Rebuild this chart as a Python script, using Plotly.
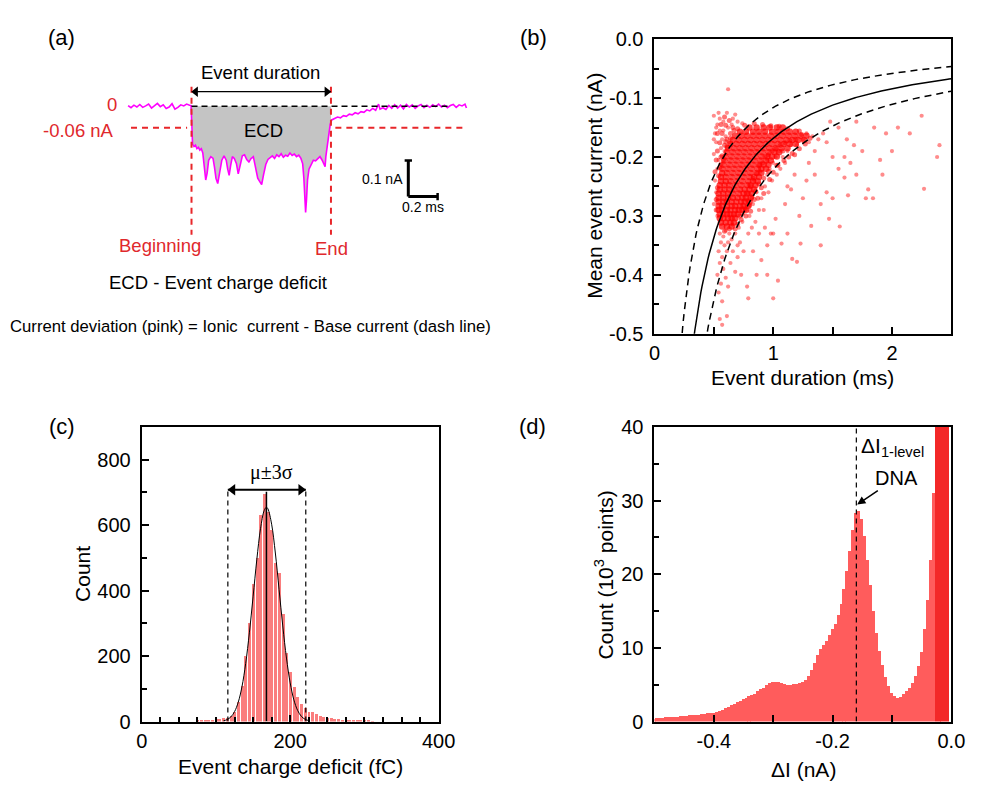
import plotly.graph_objects as go

W, H = 983, 786
FONT = "Liberation Sans, Arial, sans-serif"
RED_TXT = "#e0282c"


def px(x):
    return x / W


def py(y):
    return 1 - y / H


# ---------------- (a) single translocation event ----------------
trace_t = [
    0.00, 0.02, 0.04, 0.06, 0.08, 0.10, 0.12, 0.14, 0.16, 0.18, 0.20, 0.22,
    0.24, 0.26, 0.28, 0.30, 0.32, 0.34, 0.36, 0.38, 0.40, 0.42, 0.430,
    0.436, 0.440, 0.450, 0.460, 0.470, 0.480, 0.490, 0.500, 0.510, 0.520,
    0.530, 0.540, 0.550, 0.565, 0.580, 0.590, 0.600, 0.612, 0.625, 0.640,
    0.655, 0.670, 0.680, 0.690, 0.700, 0.712, 0.725, 0.740, 0.752, 0.765,
    0.780, 0.795, 0.810, 0.825, 0.840, 0.855, 0.870, 0.885, 0.900, 0.912,
    0.925, 0.940, 0.955, 0.970, 0.985, 1.000, 1.015, 1.030, 1.045, 1.060,
    1.075, 1.090, 1.105, 1.120, 1.135, 1.150, 1.165, 1.180, 1.192, 1.200,
    1.206, 1.212, 1.218, 1.225, 1.235, 1.250, 1.265, 1.280, 1.295, 1.310,
    1.325, 1.338, 1.345, 1.350, 1.360, 1.370, 1.380, 1.390,
    1.41, 1.43, 1.45, 1.47, 1.49, 1.51, 1.53, 1.55, 1.57, 1.59, 1.61, 1.63,
    1.65, 1.67, 1.69, 1.71, 1.72, 1.74, 1.76, 1.78, 1.80, 1.82, 1.84, 1.86,
    1.88, 1.90, 1.92, 1.94, 1.96, 1.98, 2.00, 2.02, 2.04, 2.06, 2.08, 2.10,
    2.12, 2.14, 2.16, 2.18, 2.20, 2.22, 2.24, 2.26, 2.28, 2.30, 2.31,
]
trace_i = [
    0.002, -0.004, 0.003, -0.002, 0.005, -0.003, 0.001, 0.006, -0.005, 0.002,
    0.008, -0.001, 0.004, -0.006, -0.002, 0.007, -0.008, -0.003, 0.004, 0.001,
    0.006, 0.003, 0.002,
    -0.060, -0.105, -0.112, -0.108, -0.118, -0.114, -0.122, -0.118, -0.130,
    -0.165, -0.205, -0.185, -0.150, -0.140, -0.145, -0.170, -0.200, -0.215,
    -0.180, -0.150, -0.138, -0.150, -0.175, -0.192, -0.165, -0.140, -0.145,
    -0.160, -0.188, -0.160, -0.138, -0.135, -0.148, -0.155, -0.145, -0.140,
    -0.170, -0.200, -0.210, -0.218, -0.190, -0.162, -0.148, -0.142, -0.138,
    -0.145, -0.135, -0.140, -0.132, -0.142, -0.136, -0.139, -0.130, -0.137,
    -0.133, -0.140, -0.136, -0.145, -0.160, -0.200, -0.260, -0.295, -0.260,
    -0.205, -0.175, -0.160, -0.150, -0.152, -0.145, -0.140, -0.150, -0.160,
    -0.168, -0.140, -0.112, -0.080, -0.050, -0.038,
    -0.035, -0.030, -0.032, -0.026, -0.028, -0.022, -0.024, -0.018, -0.021,
    -0.015, -0.017, -0.010, -0.013, -0.006, -0.011, 0.006, -0.008, -0.004,
    -0.009, 0.002, -0.006, 0.004, -0.005, 0.003, -0.007, 0.005, -0.002,
    0.004, -0.006, 0.001, 0.005, -0.004, 0.003, -0.003, 0.004, -0.001, 0.006,
    -0.002, 0.003, -0.004, 0.002, 0.005, -0.003, 0.004, 0.001, 0.006, -0.005,
]
event_start_ms = 0.433
event_end_ms = 1.385
base_current_na = 0.0
threshold_na = -0.06
scalebar_na = 0.1
scalebar_ms = 0.2

# ---------------- (b) mean event current vs duration ----------------
core_y_levels = [
    -0.150, -0.157, -0.164, -0.171, -0.178, -0.185, -0.192, -0.199, -0.206,
    -0.213, -0.220, -0.227, -0.234, -0.241, -0.248, -0.255, -0.262, -0.269,
    -0.276, -0.283, -0.290, -0.297, -0.304, -0.311, -0.318,
]
core_x_rows = [
    [0.80, 0.86, 0.92, 0.97, 1.03, 1.08],
    [0.72, 0.77, 0.83, 0.88, 0.93, 0.99, 1.04, 1.09, 1.14, 1.19],
    [0.68, 0.73, 0.78, 0.83, 0.88, 0.93, 0.98, 1.03, 1.08, 1.13, 1.18, 1.23, 1.28],
    [0.66, 0.71, 0.76, 0.81, 0.86, 0.91, 0.96, 1.01, 1.06, 1.11, 1.16, 1.21, 1.26],
    [0.64, 0.69, 0.74, 0.79, 0.84, 0.89, 0.94, 0.99, 1.04, 1.09, 1.14, 1.19],
    [0.62, 0.67, 0.72, 0.77, 0.82, 0.87, 0.92, 0.97, 1.02, 1.07, 1.12],
    [0.61, 0.66, 0.71, 0.76, 0.81, 0.86, 0.91, 0.96, 1.01, 1.05],
    [0.60, 0.65, 0.70, 0.75, 0.80, 0.85, 0.90, 0.95, 0.99, 1.03],
    [0.59, 0.64, 0.69, 0.74, 0.79, 0.84, 0.89, 0.94, 0.98],
    [0.58, 0.63, 0.68, 0.73, 0.78, 0.83, 0.88, 0.92, 0.96],
    [0.57, 0.62, 0.67, 0.72, 0.77, 0.82, 0.87, 0.90, 0.94],
    [0.57, 0.61, 0.66, 0.71, 0.76, 0.81, 0.86, 0.90],
    [0.56, 0.60, 0.65, 0.70, 0.75, 0.80, 0.84, 0.88],
    [0.56, 0.60, 0.64, 0.69, 0.74, 0.79, 0.83, 0.87],
    [0.55, 0.59, 0.63, 0.68, 0.73, 0.78, 0.81, 0.85],
    [0.55, 0.59, 0.63, 0.67, 0.72, 0.76, 0.80, 0.84],
    [0.54, 0.58, 0.62, 0.66, 0.71, 0.75, 0.78, 0.82],
    [0.54, 0.58, 0.62, 0.66, 0.70, 0.74, 0.77, 0.81],
    [0.54, 0.58, 0.61, 0.65, 0.69, 0.73, 0.76, 0.80],
    [0.54, 0.57, 0.61, 0.65, 0.68, 0.72, 0.75, 0.79],
    [0.54, 0.57, 0.61, 0.64, 0.68, 0.71, 0.74, 0.77],
    [0.55, 0.58, 0.61, 0.64, 0.67, 0.70],
    [0.55, 0.58, 0.62, 0.65, 0.68],
    [0.56, 0.60, 0.64, 0.67],
    [0.57, 0.61, 0.65],
]
# events around the edge of the dense cluster
halo_events = [
    (0.70, -0.152), (0.76, -0.146), (0.84, -0.143), (0.91, -0.145), (0.98, -0.147),
    (1.05, -0.148), (1.12, -0.152), (1.22, -0.156), (1.31, -0.168), (1.27, -0.178),
    (1.22, -0.186), (1.16, -0.194), (1.09, -0.206), (1.03, -0.214), (0.96, -0.224),
    (0.92, -0.236), (0.88, -0.246), (0.85, -0.258), (0.82, -0.268), (0.80, -0.282),
    (0.77, -0.300), (0.73, -0.306), (0.70, -0.314), (0.68, -0.322), (0.63, -0.322),
    (0.59, -0.326), (0.52, -0.290), (0.52, -0.272), (0.53, -0.252), (0.54, -0.232),
    (0.56, -0.212), (0.57, -0.198), (0.59, -0.180), (0.61, -0.170), (0.64, -0.160),
    (0.66, -0.150),
    (0.79, -0.262), (0.81, -0.250), (0.83, -0.236), (0.86, -0.228), (0.88, -0.214),
    (0.91, -0.210), (0.93, -0.200), (0.96, -0.196), (0.99, -0.190), (1.02, -0.186),
    (1.06, -0.180), (1.10, -0.176), (1.14, -0.172), (1.19, -0.170), (1.24, -0.162),
    (0.78, -0.274), (0.76, -0.286), (0.74, -0.296), (0.72, -0.300), (0.81, -0.292),
    (0.84, -0.272), (0.87, -0.270), (0.90, -0.252), (0.92, -0.262), (0.97, -0.238),
    (1.00, -0.226), (1.04, -0.214), (1.08, -0.190), (1.13, -0.200), (1.18, -0.196),
    (0.60, -0.146), (0.63, -0.138), (0.57, -0.160), (0.55, -0.176), (0.53, -0.190),
    (0.56, -0.200), (0.61, -0.182), (0.52, -0.205), (0.55, -0.218), (0.51, -0.225),
    (0.67, -0.155), (0.64, -0.168), (0.60, -0.174), (0.58, -0.205), (0.53, -0.160),
    (0.56, -0.145), (0.59, -0.132),
]
sparse_events = [
    (0.50, -0.130), (0.53, -0.145), (0.51, -0.160), (0.55, -0.155), (0.58, -0.140),
    (0.60, -0.165), (0.52, -0.175), (0.56, -0.185), (0.50, -0.195), (0.62, -0.150),
    (0.65, -0.145), (0.54, -0.205), (0.57, -0.170), (0.63, -0.175), (0.59, -0.190),
    (0.52, -0.150), (0.66, -0.135), (0.70, -0.140), (0.61, -0.125), (0.58, -0.155),
    (0.55, -0.135), (0.53, -0.220), (0.51, -0.240), (0.52, -0.260), (0.50, -0.280),
    (0.53, -0.300), (0.62, -0.085), (0.74, -0.143), (0.68, -0.128), (0.50, -0.170),
    (0.54, -0.125),
    (0.55, -0.330), (0.58, -0.335), (0.60, -0.325), (0.63, -0.330), (0.56, -0.345),
    (0.59, -0.350), (0.62, -0.345), (0.54, -0.360), (0.57, -0.370), (0.61, -0.360),
    (0.55, -0.380), (0.58, -0.390), (0.53, -0.400), (0.56, -0.415), (0.60, -0.405),
    (0.54, -0.430), (0.57, -0.445), (0.55, -0.475), (0.57, -0.485), (0.65, -0.340),
    (0.68, -0.330), (0.66, -0.360), (0.70, -0.350), (0.72, -0.345), (0.64, -0.380),
    (0.68, -0.395), (0.70, -0.370), (0.62, -0.420), (0.75, -0.360), (0.79, -0.440),
    (0.78, -0.420), (0.73, -0.400), (0.61, -0.470), (0.66, -0.315), (0.71, -0.320),
    (0.74, -0.310),
    (0.80, -0.300), (0.83, -0.280), (0.86, -0.260), (0.88, -0.290), (0.82, -0.320),
    (0.85, -0.310), (0.90, -0.270), (0.93, -0.250), (0.95, -0.230), (0.97, -0.220),
    (1.00, -0.210), (1.02, -0.200), (1.05, -0.190), (1.08, -0.200), (1.12, -0.190),
    (1.15, -0.180), (1.20, -0.180), (1.25, -0.170), (1.30, -0.175), (1.28, -0.160),
    (1.33, -0.165), (1.35, -0.190), (1.38, -0.170), (1.42, -0.160), (1.45, -0.175),
    (0.92, -0.290), (0.96, -0.260), (0.99, -0.240), (1.03, -0.230), (1.06, -0.220),
    (1.10, -0.210), (0.88, -0.330), (0.93, -0.320), (0.98, -0.330), (1.02, -0.305),
    (0.83, -0.360), (0.95, -0.350), (0.90, -0.375), (1.00, -0.330), (0.79, -0.330),
    (0.77, -0.290), (0.84, -0.240), (0.89, -0.225), (0.95, -0.205),
    (1.10, -0.280), (1.15, -0.255), (1.22, -0.300), (1.25, -0.270), (1.32, -0.317),
    (1.40, -0.280), (1.40, -0.350), (1.47, -0.305), (1.50, -0.270), (1.56, -0.318),
    (1.63, -0.265), (1.78, -0.270), (1.84, -0.270), (2.27, -0.254), (1.23, -0.347),
    (1.16, -0.373), (1.20, -0.378), (1.04, -0.410), (0.95, -0.400), (1.07, -0.347),
    (1.35, -0.230), (1.45, -0.260), (1.55, -0.220), (1.60, -0.200), (1.65, -0.210),
    (1.70, -0.230), (1.75, -0.190), (1.80, -0.255), (1.90, -0.205), (1.95, -0.160),
    (2.05, -0.150), (2.00, -0.190), (2.15, -0.160), (2.25, -0.130), (2.38, -0.200),
    (2.40, -0.180), (1.55, -0.150), (1.62, -0.170), (1.70, -0.140), (1.48, -0.140),
    (1.85, -0.150), (1.50, -0.200), (1.30, -0.210), (1.18, -0.230), (1.12, -0.250),
    (1.28, -0.240), (1.60, -0.235), (1.92, -0.230), (1.68, -0.180), (1.12, -0.330),
    (1.00, -0.440), (0.86, -0.400),
]
# event charge deficit levels (fC): mean and mean +/- 3 sigma
ecd_mean_fc = 168
ecd_low_fc = 116
ecd_high_fc = 221
duration_ticks = [0, 1, 2]
duration_ticktext = ["0", "1", "2"]
current_ticks = [0.0, -0.1, -0.2, -0.3, -0.4, -0.5]
current_ticktext = ["0.0", "-0.1", "-0.2", "-0.3", "-0.4", "-0.5"]

# ---------------- (c) event charge deficit histogram ----------------
ecd_bin_start, ecd_bin_width = 75, 5
ecd_counts = [
    2, 3, 4, 5, 6, 7, 8, 10, 12, 18,
    30, 60, 110, 200, 300, 420, 500, 630, 695, 640,
    585, 485, 455, 330, 210, 150, 105, 75, 55, 40,
    30, 28, 22, 18, 15, 12, 10, 9, 7, 6,
    5, 4, 4, 3, 3, 2, 2, 1,
]
fit_x = [110, 115, 120, 125, 130, 135, 140, 145, 150, 155, 160, 165, 168,
         170, 175, 180, 185, 190, 195, 200, 205, 210, 215, 220, 225]
fit_y = [2, 6, 14, 30, 59, 106, 177, 271, 381, 494, 589, 645, 655,
         650, 603, 515, 404, 292, 194, 118, 66, 34, 16, 7, 3]
ecd_ticks = [0, 200, 400]
count_ticks = [0, 200, 400, 600, 800]

# ---------------- (d) all-points current histogram ----------------
di_bin_start, di_bin_width = -0.500, 0.005
di_counts = [
    0.40, 0.45, 0.48, 0.50, 0.55, 0.58, 0.60, 0.65, 0.68, 0.70,
    0.75, 0.80, 0.82, 0.88, 0.90, 0.95, 1.00, 1.05, 1.10, 1.15,
    1.20, 1.30, 1.45, 1.60, 1.80, 2.00, 2.20, 2.40, 2.60, 2.80,
    3.00, 3.20, 3.40, 3.60, 3.80, 4.10, 4.40, 4.60, 4.90, 5.20,
    5.40, 5.40, 5.35, 5.25, 5.10, 5.00, 5.00, 5.05, 5.10, 5.20,
    5.40, 5.70, 6.20, 7.00, 8.00, 9.00, 9.80, 10.40, 11.00, 11.70,
    12.50, 13.30, 14.50, 16.00, 18.00, 20.50, 23.20, 26.00, 28.30, 28.60,
    27.50, 25.20, 22.00, 18.50, 15.00, 12.00, 9.60, 7.70, 6.00, 4.80,
    3.90, 3.40, 3.20, 3.30, 3.70, 4.10, 4.60, 5.20, 6.20, 7.60,
    9.50, 12.50, 16.50, 22.00, 31.00, 45.0, 60.0, 80.0, 100.0, 120.0,
]
di_one_level = -0.16
di_peak_count = 29.0
di_ticks = [-0.4, -0.2, 0.0]
di_ticktext = ["-0.4", "-0.2", "0.0"]
di_count_ticks = [0, 10, 20, 30, 40]

fig = go.Figure()

# ---- (a) traces ----
fill_x, fill_y = [event_start_ms], [base_current_na]
for t, i in zip(trace_t, trace_i):
    if event_start_ms <= t <= event_end_ms:
        fill_x.append(t)
        fill_y.append(i)
fill_x += [event_end_ms, event_end_ms]
fill_y += [fill_y[-1], base_current_na]
fig.add_trace(go.Scatter(x=fill_x, y=fill_y, mode="lines", fill="toself",
                         fillcolor="#c4c4c4", line=dict(width=0),
                         xaxis="x", yaxis="y", hoverinfo="skip"))
fig.add_trace(go.Scatter(x=trace_t, y=trace_i, mode="lines",
                         line=dict(color="#ff00ff", width=1.6),
                         xaxis="x", yaxis="y"))
# double-headed "event duration" arrow
dur_arrow_y = 0.0405
fig.add_trace(go.Scatter(x=[event_start_ms + 0.028, event_end_ms - 0.028], y=[dur_arrow_y, dur_arrow_y],
                         mode="markers",
                         marker=dict(symbol=["triangle-left", "triangle-right"], size=9, color="black"),
                         xaxis="x", yaxis="y"))

# ---- (b) traces ----
core_x, core_y = [], []
for yl, xs in zip(core_y_levels, core_x_rows):
    for xv in xs:
        core_x.append(xv)
        core_y.append(yl)
fig.add_trace(go.Scatter(x=core_x, y=core_y, mode="markers",
                         marker=dict(color="rgba(255,0,0,0.72)", size=6.5, line=dict(width=0)),
                         xaxis="x2", yaxis="y2"))
fig.add_trace(go.Scatter(x=[p[0] for p in halo_events], y=[p[1] for p in halo_events],
                         mode="markers",
                         marker=dict(color="rgba(255,0,0,0.55)", size=5, line=dict(width=0)),
                         xaxis="x2", yaxis="y2"))
fig.add_trace(go.Scatter(x=[p[0] for p in sparse_events], y=[p[1] for p in sparse_events],
                         mode="markers",
                         marker=dict(color="rgba(255,0,0,0.45)", size=4.2, line=dict(width=0)),
                         xaxis="x2", yaxis="y2"))
# constant-charge curves: mean current = -ECD / duration  (fC / ms = pA)
dur = [0.20 + 0.01 * k for k in range(231)]
for q, dash in [(ecd_low_fc, "7px,5px"), (ecd_high_fc, "7px,5px"), (ecd_mean_fc, "solid")]:
    fig.add_trace(go.Scatter(x=dur, y=[-q / 1000.0 / d for d in dur], mode="lines",
                             line=dict(color="black", width=1.5, dash=dash),
                             xaxis="x2", yaxis="y2"))

# ---- (c) traces ----
ecd_centers = [ecd_bin_start + ecd_bin_width * k for k in range(len(ecd_counts))]
fig.add_trace(go.Bar(x=ecd_centers, y=ecd_counts, width=ecd_bin_width * 0.8,
                     marker=dict(color="rgb(250,125,125)", line=dict(width=0)),
                     xaxis="x3", yaxis="y3"))
fig.add_trace(go.Scatter(x=fit_x, y=fit_y, mode="lines", line=dict(color="black", width=1, shape="spline"),
                         xaxis="x3", yaxis="y3"))
# double-headed mu +/- 3 sigma arrow
sigma_arrow_y = 708
fig.add_trace(go.Scatter(x=[ecd_low_fc + 6.5, ecd_high_fc - 6.5], y=[sigma_arrow_y, sigma_arrow_y],
                         mode="markers",
                         marker=dict(symbol=["triangle-left", "triangle-right"], size=10, color="black"),
                         xaxis="x3", yaxis="y3"))

# ---- (d) traces ----
di_centers = [di_bin_start + di_bin_width * k for k in range(len(di_counts))]
di_colors = ["rgb(243,40,40)" if c > 40 else "rgb(255,92,92)" for c in di_counts]
fig.add_trace(go.Bar(x=di_centers, y=di_counts, width=di_bin_width * 1.02,
                     marker=dict(color=di_colors, line=dict(width=0)),
                     xaxis="x4", yaxis="y4"))

# ---- shapes ----
shapes = []
red = "rgb(232,38,42)"
# (a)
for xv in (event_start_ms, event_end_ms):
    shapes.append(dict(type="line", xref="x", yref="y", x0=xv, x1=xv, y0=0.054, y1=-0.357,
                       line=dict(color=red, width=2, dash="6px,5px")))
shapes.append(dict(type="line", xref="x", yref="y", x0=event_start_ms, x1=event_end_ms,
                   y0=dur_arrow_y, y1=dur_arrow_y, line=dict(color="black", width=1.3)))
shapes.append(dict(type="line", xref="x", yref="y", x0=event_start_ms, x1=2.2,
                   y0=base_current_na, y1=base_current_na,
                   line=dict(color="black", width=1.5, dash="6px,4px")))
shapes.append(dict(type="line", xref="x", yref="y", x0=0.02, x1=event_start_ms - 0.03,
                   y0=threshold_na, y1=threshold_na, line=dict(color=red, width=2, dash="6px,5px")))
shapes.append(dict(type="line", xref="x", yref="y", x0=event_end_ms + 0.03, x1=2.31,
                   y0=threshold_na, y1=threshold_na, line=dict(color=red, width=2, dash="6px,5px")))
sb_x, sb_y = 1.913, -0.251
shapes += [
    dict(type="line", xref="x", yref="y", x0=sb_x, x1=sb_x, y0=sb_y, y1=sb_y + scalebar_na,
         line=dict(color="black", width=3)),
    dict(type="line", xref="x", yref="y", x0=sb_x, x1=sb_x + scalebar_ms, y0=sb_y, y1=sb_y,
         line=dict(color="black", width=3)),
    dict(type="line", xref="x", yref="y", x0=sb_x - 0.025, x1=sb_x + 0.025,
         y0=sb_y + scalebar_na, y1=sb_y + scalebar_na, line=dict(color="black", width=2.5)),
    dict(type="line", xref="x", yref="y", x0=sb_x + scalebar_ms, x1=sb_x + scalebar_ms,
         y0=sb_y - 0.01, y1=sb_y + 0.01, line=dict(color="black", width=2.5)),
]
# (c)
for xv in (ecd_low_fc, ecd_high_fc):
    shapes.append(dict(type="line", xref="x3", yref="y3", x0=xv, x1=xv, y0=0, y1=715,
                       line=dict(color="black", width=1.2, dash="5px,4px")))
shapes.append(dict(type="line", xref="x3", yref="y3", x0=ecd_mean_fc, x1=ecd_mean_fc, y0=0, y1=702,
                   line=dict(color="black", width=1.5)))
shapes.append(dict(type="line", xref="x3", yref="y3", x0=ecd_low_fc, x1=ecd_high_fc,
                   y0=sigma_arrow_y, y1=sigma_arrow_y, line=dict(color="black", width=2)))
# (d)
shapes.append(dict(type="line", xref="x4", yref="y4", x0=di_one_level, x1=di_one_level, y0=0, y1=40,
                   line=dict(color="black", width=1.2, dash="5px,4px")))

# ---- annotations ----
ann = []


def text(x, y, s, size=18, color="black", xanchor="center", yanchor="middle", family=FONT, angle=0):
    ann.append(dict(x=px(x), y=py(y), xref="paper", yref="paper", text=s, showarrow=False,
                    font=dict(family=family, size=size, color=color), xanchor=xanchor,
                    yanchor=yanchor, textangle=angle))


# panel letters
text(57, 27, "(a)", size=22)
text(540, 27, "(b)", size=22)
text(57, 427, "(c)", size=22)
text(539, 427, "(d)", size=22)

# (a) labels
text(261, 63, "Event duration", size=18.5)
text(108.5, 96, "0", size=18.5, color=RED_TXT)
text(113, 123, "-0.06 nA", size=18.5, color=RED_TXT, xanchor="right")
text(264, 123, "ECD", size=18.5)
text(158, 241, "Beginning", size=18.5, color=RED_TXT)
text(333, 244, "End", size=18.5, color=RED_TXT)
text(386, 173, "0.1 nA", size=14)
text(426.5, 202, "0.2 ms", size=14)
text(217, 279, "ECD - Event charge deficit", size=18.5)
text(250.5, 325, "Current deviation (pink) = Ionic\u00a0 current - Base current (dash line)", size=16.7)

# (b) axis titles
text(816, 377, "Event duration (ms)", size=21)
text(603, 180, "Mean event current (nA)", size=21, angle=-90)

# (c) labels
text(291, 777, "Event charge deficit (fC)", size=21)
text(79, 579, "Count", size=21, angle=-90)
text(272, 475, "\u03bc\u00b13\u03c3", size=20, family="Liberation Serif, Times New Roman, serif")

# (d) labels
text(817, 780, "\u0394I (nA)", size=21)
text(612, 580, "Count (10<sup>3</sup> points)", size=21, angle=-90)
text(873, 449, "\u0394I<sub>1-level</sub>", size=21, xanchor="left")
# "DNA" label with its arrow pointing at the one-level peak
ann.append(dict(x=di_one_level, y=di_peak_count + 0.4, xref="x4", yref="y4",
                ax=40, ay=-27, text="DNA", showarrow=True, arrowhead=2, arrowsize=1.1,
                arrowwidth=1.5, arrowcolor="black", standoff=1,
                font=dict(family=FONT, size=20, color="black")))

axis_common = dict(showline=True, linecolor="black", linewidth=2, mirror=True, showgrid=False,
                   zeroline=False, ticks="inside", ticklen=7, tickwidth=1.5, tickcolor="black",
                   tickfont=dict(family=FONT, size=20, color="black"))
x_std = dict(ticklabelstandoff=0)
y_std = dict(ticklabelstandoff=5)

fig.update_layout(
    width=W, height=H, margin=dict(l=0, r=0, t=0, b=0), showlegend=False,
    paper_bgcolor="white", plot_bgcolor="white", bargap=0,
    shapes=shapes, annotations=ann,
    xaxis=dict(domain=[px(100), px(480)], range=[-0.1667, 2.3667], visible=False, anchor="y"),
    yaxis=dict(domain=[py(260), py(40)], range=[-0.4378, 0.1568], visible=False, anchor="x"),
    xaxis2=dict(domain=[px(664), px(968)], range=[0, 2.5], anchor="y2",
                tickvals=duration_ticks, ticktext=duration_ticktext,
                minor=dict(tickmode="linear", tick0=0, dtick=0.5, ticks="inside", ticklen=7,
                           tickwidth=1.5, tickcolor="black"),
                **axis_common, **x_std),
    yaxis2=dict(domain=[py(332), py(29)], range=[-0.5, 0], anchor="x2",
                tickvals=current_ticks, ticktext=current_ticktext,
                minor=dict(tickmode="linear", tick0=0, dtick=0.05, ticks="inside", ticklen=5,
                           tickwidth=1.5, tickcolor="black"),
                **axis_common, **y_std),
    xaxis3=dict(domain=[px(139), px(443)], range=[0, 400], anchor="y3",
                tickvals=ecd_ticks,
                minor=dict(tickmode="linear", tick0=0, dtick=25, ticks="inside", ticklen=5,
                           tickwidth=1.5, tickcolor="black"),
                **axis_common, **x_std),
    yaxis3=dict(domain=[py(731), py(428)], range=[0, 900], anchor="x3",
                tickvals=count_ticks,
                minor=dict(tickmode="linear", tick0=0, dtick=100, ticks="inside", ticklen=5,
                           tickwidth=1.5, tickcolor="black"),
                **axis_common, **y_std),
    xaxis4=dict(domain=[px(664), px(968)], range=[-0.5, 0], anchor="y4",
                tickvals=di_ticks, ticktext=di_ticktext,
                minor=dict(tickmode="linear", tick0=0, dtick=0.1, ticks="inside", ticklen=7,
                           tickwidth=1.5, tickcolor="black"),
                **axis_common, **x_std),
    yaxis4=dict(domain=[py(731), py(428)], range=[0, 40], anchor="x4",
                tickvals=di_count_ticks,
                minor=dict(tickmode="linear", tick0=0, dtick=5, ticks="inside", ticklen=5,
                           tickwidth=1.5, tickcolor="black"),
                **axis_common, **y_std),
)

fig.write_html("out.html")
